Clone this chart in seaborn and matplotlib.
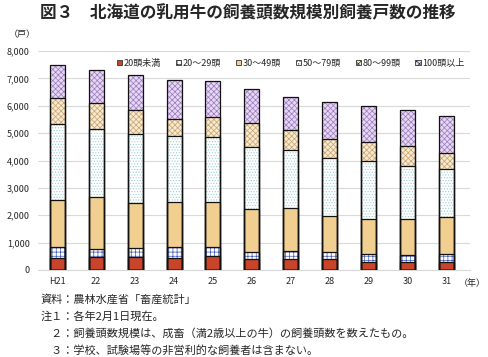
import numpy as np
import pandas as pd
import matplotlib
matplotlib.use("Agg")
import matplotlib.pyplot as plt
from matplotlib.patches import Patch
import seaborn as sns

# データ（図から読み取り、単位：戸）
years = ["H21", "22", "23", "24", "25", "26", "27", "28", "29", "30", "31"]
under20 = [430, 460, 460, 430, 510, 420, 420, 390, 285, 285, 285]
s20_29 = [400, 295, 330, 400, 320, 255, 260, 260, 300, 262, 300]
s30_49 = [1710, 1900, 1670, 1670, 1670, 1540, 1570, 1310, 1265, 1300, 1340]
s50_79 = [2790, 2500, 2520, 2410, 2370, 2290, 2120, 2150, 2150, 1935, 1765]
s80_99 = [940, 930, 880, 620, 710, 850, 730, 690, 695, 755, 570]
over100 = [1235, 1240, 1250, 1430, 1310, 1275, 1225, 1350, 1315, 1325, 1385]

labels = ["20頭未満", "20～29頭", "30～49頭", "50～79頭", "80～99頭", "100頭以上"]
series = [under20, s20_29, s30_49, s50_79, s80_99, over100]
faces = ["#c8442b", "#ffffff", "#f0cf90", "#ffffff", "#f6ead0", "#e6d8f2"]
hatch_cols = ["#c8442b", "#3f57b0", "#f0cf90", "#9fcfd2", "#c9a26e", "#9a78bf"]
hatches = [None, "++++", None, "......", "xxxxxx", "xxxxxx"]

sns.set_style("white")
plt.rcParams["font.family"] = ["Noto Sans CJK JP", "DejaVu Sans"]
plt.rcParams["hatch.linewidth"] = 0.5

df = pd.DataFrame({"year": years})
cum = np.cumsum(np.array(series), axis=0)

fig = plt.figure(figsize=(4.89, 3.57), dpi=100)
ax = fig.add_axes([0.078, 0.2437, 0.883, 0.6133])

# 積み上げ棒（累積値を上から順に重ねて描く）
for i in reversed(range(len(series))):
    df["val"] = cum[i]
    sns.barplot(data=df, x="year", y="val", color=faces[i], width=0.385,
                saturation=1, hatch=hatches[i], edgecolor=hatch_cols[i],
                linewidth=0, ax=ax, zorder=2)
    sns.barplot(data=df, x="year", y="val", fill=False, width=0.385,
                edgecolor="#111111", linewidth=0.9, ax=ax, zorder=3)

ax.set_ylim(0, 8000)
ax.set_xlim(-0.49, 10.6)
ax.set_yticks(range(0, 8001, 1000))
ax.set_yticklabels([f"{v:,}" for v in range(0, 8001, 1000)], fontsize=6.5)
ax.tick_params(axis="x", labelsize=6.5, length=0, pad=5)
ax.tick_params(axis="y", length=0, pad=6)
ax.set_xlabel("")
ax.set_ylabel("")
ax.yaxis.grid(True, color="#d9d9d9", linewidth=0.8, zorder=0)
ax.set_axisbelow(True)
for s in ["top", "right", "left"]:
    ax.spines[s].set_visible(False)
ax.spines["bottom"].set_color("#d9d9d9")

handles = [Patch(facecolor=faces[i], edgecolor="#333333", hatch=hatches[i],
                 linewidth=0.6) for i in range(len(labels))]
ax.legend(handles, labels, loc="center", bbox_to_anchor=(0.585, 0.945),
          ncol=6, frameon=False, fontsize=6.5, handlelength=0.6,
          handleheight=0.6, handletextpad=0.2, columnspacing=1.6)

fig.text(0.507, 0.963, "図３　北海道の乳用牛の飼養頭数規模別飼養戸数の推移",
         ha="center", va="center", fontsize=12, fontweight="bold")
fig.text(0.045, 0.902, "（戸）", ha="center", va="center", fontsize=6.5)
fig.text(0.965, 0.207, "（年）", ha="center", va="center", fontsize=6.5)

notes = ["資料：農林水産省「畜産統計」",
         "注１：各年2月1日現在。",
         "　２：飼養頭数規模は、成畜（満2歳以上の牛）の飼養頭数を数えたもの。",
         "　３：学校、試験場等の非営利的な飼養者は含まない。"]
for k, line in enumerate(notes):
    fig.text(0.082, 0.16 - k * 0.047, line, ha="left", va="center", fontsize=8)

fig.savefig("out.png", dpi=100)
